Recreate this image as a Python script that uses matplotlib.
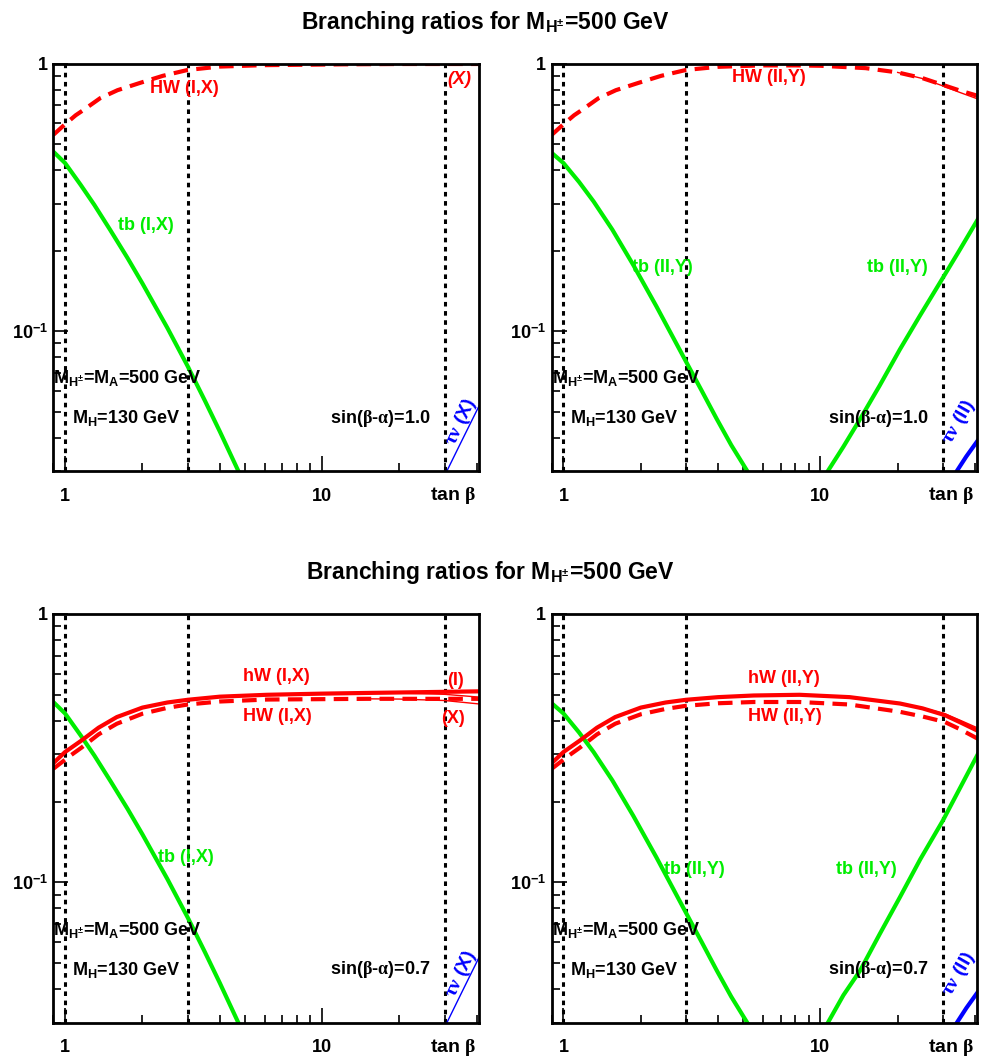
import numpy as np
import matplotlib
matplotlib.use("Agg")
import matplotlib.pyplot as plt
from matplotlib.ticker import NullFormatter, LogLocator

plt.rcParams['font.family'] = ['Liberation Sans', 'DejaVu Sans']
plt.rcParams['font.weight'] = 'bold'
plt.rcParams['mathtext.fontset'] = 'custom'
plt.rcParams['mathtext.rm'] = 'Liberation Sans:bold'
plt.rcParams['mathtext.bf'] = 'Liberation Sans:bold'
plt.rcParams['mathtext.it'] = 'Liberation Serif'
plt.rcParams['mathtext.sf'] = 'Liberation Sans:bold'

# ---- data (tan beta, BR) ----
# tb, type I / X (same in both sin(b-a) cases)
tb_IX_x = [0.9, 1.0, 1.15, 1.3, 1.5, 1.75, 2.0, 2.5, 3.0, 3.5, 4.0, 4.7, 5.0]
tb_IX_y = [0.47, 0.426, 0.353, 0.297, 0.239, 0.188, 0.151, 0.103, 0.074,
           0.055, 0.0422, 0.0303, 0.0266]
# tb, type II / Y, falling branch
tb_IIY_lo_x = [0.9, 1.0, 1.15, 1.31, 1.55, 1.87, 2.3, 3.0, 3.45, 3.95, 4.5,
               5.25, 5.6]
tb_IIY_lo_y = [0.465, 0.426, 0.362, 0.306, 0.24, 0.177, 0.124, 0.077, 0.06,
               0.047, 0.0375, 0.0295, 0.0265]
# tb, type II / Y, rising branch (sin(b-a)=1.0)
tb_IIY_hi_x = [10.2, 10.7, 12.3, 14.3, 17.0, 20.4, 24.5, 29.7, 34.5, 41.0]
tb_IIY_hi_y = [0.028, 0.030, 0.037, 0.047, 0.0625, 0.0855, 0.115, 0.156,
               0.198, 0.262]
# tb, type II / Y, rising branch (sin(b-a)=0.7)
tb_IIY_hi07_x = [10.2, 10.7, 12.3, 14.3, 17.0, 20.4, 24.5, 30.0, 35.0, 41.0]
tb_IIY_hi07_y = [0.028, 0.030, 0.038, 0.047, 0.064, 0.088, 0.122, 0.170,
                 0.225, 0.30]

# HW, sin(b-a)=1.0
HW_IX_10_x = [0.9, 1.0, 1.1, 1.18, 1.37, 1.6, 1.96, 2.4, 3.0, 4.0, 5.9, 8,
              12, 20, 30, 41]
HW_IX_10_y = [0.543, 0.595, 0.643, 0.673, 0.745, 0.798, 0.85, 0.903, 0.95,
              0.978, 0.99, 0.993, 0.997, 1.0, 1.0, 1.0]
HW_IIY_10_x = [0.9, 1.0, 1.1, 1.18, 1.37, 1.6, 1.96, 2.4, 3.0, 4.0, 5.9, 8,
               10, 15, 20, 25, 30, 35, 41]
HW_IIY_10_y = [0.543, 0.595, 0.643, 0.673, 0.745, 0.798, 0.85, 0.903, 0.95,
               0.976, 0.988, 0.988, 0.985, 0.965, 0.93, 0.885, 0.835, 0.795,
               0.76]
HW_Y_10_x = [20, 25, 30, 35, 41]
HW_Y_10_y = [0.93, 0.882, 0.828, 0.782, 0.74]

# sin(b-a)=0.7
hW_IX_x = [0.9, 1.0, 1.16, 1.35, 1.59, 2.0, 2.5, 3.0, 4.0, 6.1, 10, 15, 41]
hW_IX_y = [0.278, 0.306, 0.338, 0.377, 0.413, 0.448, 0.468, 0.479, 0.492,
           0.50, 0.505, 0.508, 0.515]
hW_X_x = [15, 20, 30, 41]
hW_X_y = [0.508, 0.507, 0.502, 0.49]
HW_IX_x = [0.9, 1.05, 1.16, 1.35, 1.59, 2.0, 2.5, 3.0, 4.0, 6.1, 15, 41]
HW_IX_y = [0.265, 0.297, 0.318, 0.356, 0.39, 0.425, 0.447, 0.46, 0.472,
           0.48, 0.483, 0.483]
HW_X_x = [15, 20, 30, 41]
HW_X_y = [0.483, 0.482, 0.476, 0.462]

hW_IIY_x = [0.9, 1.0, 1.16, 1.35, 1.59, 2.0, 2.5, 3.0, 4.0, 5.5, 8.3, 13,
            20.4, 25, 30.5, 35, 41]
hW_IIY_y = [0.278, 0.306, 0.338, 0.377, 0.413, 0.448, 0.468, 0.479, 0.49,
            0.497, 0.50, 0.49, 0.464, 0.445, 0.42, 0.395, 0.367]
hW_Y_x = [20.4, 25, 30.5, 35, 41]
hW_Y_y = [0.464, 0.447, 0.425, 0.402, 0.376]
HW_IIY_x = [0.9, 1.05, 1.16, 1.35, 1.59, 2.0, 2.5, 3.0, 4.0, 5.5, 8.3, 13,
            20.4, 25, 30.5, 35, 41]
HW_IIY_y = [0.265, 0.297, 0.318, 0.356, 0.39, 0.423, 0.443, 0.455, 0.465,
            0.47, 0.47, 0.46, 0.432, 0.415, 0.396, 0.372, 0.343]

# tau nu
taunu_X_x = [28, 30.6, 35, 41]
taunu_X_y = [0.026, 0.030, 0.039, 0.053]
taunu_II_x = [32, 34, 37, 41]
taunu_II_y = [0.027, 0.030, 0.034, 0.039]

vlines = [1, 3, 30]

RED = (1, 0, 0)
GREEN = (0, 0.93, 0)
BLUE = (0, 0, 1)
DASH = (0, (3.5, 2))

fig = plt.figure(figsize=(9.92, 10.58), dpi=100)
W, H = 992, 1058


def make_ax(x0, ytop, w, h):
    ax = fig.add_axes([x0 / W, 1 - (ytop + h) / H, w / W, h / H])
    ax.set_xscale('log')
    ax.set_yscale('log')
    ax.set_xlim(0.9, 40.8)
    ax.set_ylim(0.03, 1)
    ax.set_xticks([1, 10])
    ax.set_xticklabels(['1', '10'])
    ax.set_yticks([0.1, 1])
    ax.set_yticklabels([r'$10^{-1}$', '1'])
    ax.xaxis.set_minor_locator(LogLocator(base=10, subs=np.arange(2, 10)))
    ax.yaxis.set_minor_locator(LogLocator(base=10, subs=np.arange(2, 10)))
    ax.xaxis.set_minor_formatter(NullFormatter())
    ax.yaxis.set_minor_formatter(NullFormatter())
    ax.tick_params(which='both', direction='in', top=False, right=False,
                   width=1.2, labelsize=13)
    ax.tick_params(which='major', length=11)
    ax.tick_params(which='minor', length=6)
    ax.tick_params(axis='x', pad=12)
    ax.tick_params(axis='y', pad=4)
    for s in ax.spines.values():
        s.set_linewidth(2)
    for v in vlines:
        ax.axvline(v, color='k', ls=(0, (1.5, 1.5)), lw=2.2, zorder=1)
    ax.text(0.993, -0.06, r'tan $\beta$', transform=ax.transAxes,
            ha='right', va='center', fontsize=14)
    return ax


def common_text(ax, sinba):
    ax.text(0.0, 0.228, r'$\mathrm{M_{H^{\pm}}}$=$\mathrm{M_A}$=500 GeV',
            transform=ax.transAxes, ha='left', va='center', fontsize=13)
    ax.text(0.043, 0.13, r'$\mathrm{M_H}$=130 GeV',
            transform=ax.transAxes, ha='left', va='center', fontsize=13)
    ax.text(0.885, 0.13, r'sin($\beta$-$\alpha$)=' + sinba,
            transform=ax.transAxes, ha='right', va='center', fontsize=13)


def label(ax, x, y, s, color, **kw):
    ax.text(x, y, s, transform=ax.transAxes, color=color, fontsize=13,
            ha='left', va='center', **kw)


def taunu(ax, s, rot):
    ax.text(0.958, 0.12, r'$\tau\nu$ ' + s, transform=ax.transAxes,
            color=BLUE, fontsize=14, rotation=rot, ha='center', va='center')


# top-left
ax = make_ax(53.3, 64, 425.7, 407)
ax.plot(tb_IX_x, tb_IX_y, color=GREEN, lw=3)
ax.plot(HW_IX_10_x, HW_IX_10_y, color=RED, lw=3, ls=DASH)
ax.plot(taunu_X_x, taunu_X_y, color=BLUE, lw=1)
common_text(ax, '1.0')
label(ax, 0.227, 0.941, 'HW (I,X)', RED)
label(ax, 0.925, 0.962, '(X)', RED, style='italic')
label(ax, 0.152, 0.604, 'tb (I,X)', GREEN)
taunu(ax, '(X)', 65)

# top-right
ax = make_ax(551.7, 64, 425.5, 407)
ax.plot(tb_IIY_lo_x, tb_IIY_lo_y, color=GREEN, lw=3)
ax.plot(tb_IIY_hi_x, tb_IIY_hi_y, color=GREEN, lw=3)
ax.plot(HW_IIY_10_x, HW_IIY_10_y, color=RED, lw=3, ls=DASH)
ax.plot(HW_Y_10_x, HW_Y_10_y, color=RED, lw=1)
ax.plot(taunu_II_x, taunu_II_y, color=BLUE, lw=3)
common_text(ax, '1.0')
label(ax, 0.424, 0.966, 'HW (II,Y)', RED)
label(ax, 0.189, 0.5, 'tb (II,Y)', GREEN)
label(ax, 0.74, 0.5, 'tb (II,Y)', GREEN)
taunu(ax, '(II)', 60)

# bottom-left
ax = make_ax(53.3, 614, 425.7, 408.7)
ax.plot(tb_IX_x, tb_IX_y, color=GREEN, lw=3)
ax.plot(hW_IX_x, hW_IX_y, color=RED, lw=3)
ax.plot(hW_X_x, hW_X_y, color=RED, lw=1)
ax.plot(HW_IX_x, HW_IX_y, color=RED, lw=3, ls=DASH)
ax.plot(HW_X_x, HW_X_y, color=RED, lw=1)
ax.plot(taunu_X_x, taunu_X_y, color=BLUE, lw=1)
common_text(ax, '0.7')
label(ax, 0.446, 0.848, 'hW (I,X)', RED)
label(ax, 0.446, 0.75, 'HW (I,X)', RED)
label(ax, 0.924, 0.838, '(I)', RED)
label(ax, 0.912, 0.745, '(X)', RED)
label(ax, 0.246, 0.403, 'tb (I,X)', GREEN)
taunu(ax, '(X)', 65)

# bottom-right
ax = make_ax(551.7, 614, 425.5, 408.7)
ax.plot(tb_IIY_lo_x, tb_IIY_lo_y, color=GREEN, lw=3)
ax.plot(tb_IIY_hi07_x, tb_IIY_hi07_y, color=GREEN, lw=3)
ax.plot(hW_IIY_x, hW_IIY_y, color=RED, lw=3)
ax.plot(hW_Y_x, hW_Y_y, color=RED, lw=1)
ax.plot(HW_IIY_x, HW_IIY_y, color=RED, lw=3, ls=DASH)
ax.plot(taunu_II_x, taunu_II_y, color=BLUE, lw=3)
common_text(ax, '0.7')
label(ax, 0.462, 0.843, 'hW (II,Y)', RED)
label(ax, 0.462, 0.75, 'HW (II,Y)', RED)
label(ax, 0.264, 0.376, 'tb (II,Y)', GREEN)
label(ax, 0.668, 0.376, 'tb (II,Y)', GREEN)
taunu(ax, '(II)', 60)

title = r'Branching ratios for $\mathrm{M_{H^{\pm}}}$=500 GeV'
fig.text(0.489, 1 - 22 / H, title, ha='center', va='center', fontsize=16.5)
fig.text(0.494, 1 - 572 / H, title, ha='center', va='center', fontsize=16.5)

fig.savefig('out.png', dpi=100)
